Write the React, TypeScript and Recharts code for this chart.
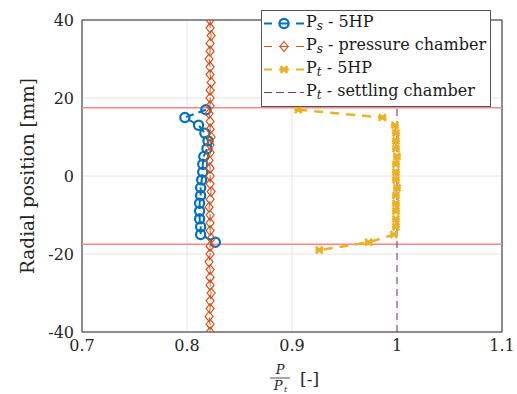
import React from "react";
import {
  ScatterChart,
  Scatter,
  XAxis,
  YAxis,
  CartesianGrid,
  ReferenceLine,
  ReferenceArea,
} from "recharts";

// radial stations [mm] and pressure ratios P/Pt
const radial5hp = [17, 15, 13, 11, 9, 7, 5, 3, 1, -1, -3, -5, -7, -9, -11, -13, -15, -17];
const ps5hp = [
  0.818, 0.798, 0.811, 0.817, 0.82, 0.819, 0.816, 0.815, 0.815, 0.814, 0.813, 0.813, 0.812,
  0.812, 0.812, 0.813, 0.813, 0.827,
];

const radialChamber = [
  40, 38, 36, 34, 32, 30, 28, 26, 24, 22, 20, 18, 16, 14, 12, 10, 8, 6, 4, 2, 0, -2, -4, -6, -8,
  -10, -12, -14, -16, -18, -20, -22, -24, -26, -28, -30, -32, -34, -36, -38, -40,
];
const psChamber = [
  0.822, 0.822, 0.823, 0.822, 0.822, 0.821, 0.822, 0.822, 0.823, 0.822, 0.822, 0.822, 0.821,
  0.822, 0.822, 0.823, 0.822, 0.822, 0.821, 0.822, 0.822, 0.822, 0.823, 0.822, 0.821, 0.822,
  0.822, 0.822, 0.823, 0.822, 0.822, 0.821, 0.822, 0.822, 0.822, 0.823, 0.822, 0.822, 0.821,
  0.822, 0.822,
];

const radialPt = [17, 15, 13, 11, 9, 7, 5, 3, 1, -1, -3, -5, -7, -9, -11, -13, -15, -17, -19];
const pt5hp = [
  0.906, 0.986, 0.998, 0.999, 0.999, 0.999, 1.0, 0.999, 0.999, 0.999, 1.0, 0.999, 0.999, 0.999,
  0.999, 0.999, 0.997, 0.973, 0.926,
];

const ptSettling = 1.0;
const jetEdges = [17.5, -17.5];

const xTicks = [0.7, 0.8, 0.9, 1, 1.1];
const yTicks = [-40, -20, 0, 20, 40];

const BLUE = "#0072BD";
const ORANGE = "#D95319";
const YELLOW = "#EDB120";
const PURPLE = "#7E2F8E";
const EDGE_RED = "#ff8585";
const FONT = "DejaVu Serif, Liberation Serif, serif";

const zip = (xs: number[], ys: number[]) => xs.map((x, i) => ({ x, y: ys[i] }));

const ps5hpData = zip(ps5hp, radial5hp);
const psChamberData = zip(psChamber, radialChamber);
const pt5hpData = zip(pt5hp, radialPt);

const Circle = (p: any) => (
  <circle cx={p.cx} cy={p.cy} r={4.6} fill="none" stroke={BLUE} strokeWidth={2.2} />
);

const Diamond = (p: any) => (
  <path
    d={`M${p.cx},${p.cy - 5}L${p.cx + 4},${p.cy}L${p.cx},${p.cy + 5}L${p.cx - 4},${p.cy}Z`}
    fill="none"
    stroke={ORANGE}
    strokeWidth={1.2}
  />
);

const Star = (p: any) => {
  const s = 3.4;
  return (
    <path
      d={`M${p.cx - s},${p.cy - s}L${p.cx + s},${p.cy + s}M${p.cx - s},${p.cy + s}L${p.cx + s},${p.cy - s}M${p.cx - s - 0.5},${p.cy}L${p.cx + s + 0.5},${p.cy}`}
      stroke={YELLOW}
      strokeWidth={2.5}
      fill="none"
    />
  );
};

const legendItems = [
  { sub: "s", text: " - 5HP", color: BLUE, width: 2, marker: "circle" },
  { sub: "s", text: " - pressure chamber", color: ORANGE, width: 1, marker: "diamond" },
  { sub: "t", text: " - 5HP", color: YELLOW, width: 2, marker: "star" },
  { sub: "t", text: " - settling chamber", color: PURPLE, width: 1, marker: "none" },
];

function LegendBox() {
  return (
    <div
      style={{
        position: "absolute",
        left: 261,
        top: 10,
        width: 228,
        height: 94,
        background: "#fff",
        border: "1px solid #555",
        fontFamily: FONT,
        fontSize: 16,
        lineHeight: "23px",
        paddingTop: 1,
        color: "#1a1a1a",
      }}
    >
      {legendItems.map((it, i) => (
        <div key={i} style={{ display: "flex", alignItems: "center", height: 23, whiteSpace: "nowrap" }}>
          <svg width={44} height={23} style={{ flex: "none" }}>
            <line
              x1={2}
              y1={11.5}
              x2={42}
              y2={11.5}
              stroke={it.color}
              strokeWidth={it.width}
              strokeDasharray={it.marker === "none" ? "8 4" : "8 7 10 7 8"}
            />
            {it.marker === "circle" && <Circle cx={22} cy={11.5} />}
            {it.marker === "diamond" && <Diamond cx={22} cy={11.5} />}
            {it.marker === "star" && <Star cx={22} cy={11.5} />}
          </svg>
          <span>
            P<sub style={{ fontStyle: "italic", fontSize: 12, verticalAlign: "-3px" }}>{it.sub}</sub>
            {it.text}
          </span>
        </div>
      ))}
    </div>
  );
}

const YLabel = (props: any) => {
  const vb = props.viewBox;
  const cx = 27;
  const cy = vb.y + vb.height / 2;
  return (
    <text
      x={cx}
      y={cy}
      transform={`rotate(-90, ${cx}, ${cy})`}
      textAnchor="middle"
      dominantBaseline="central"
      fontFamily={FONT}
      fontSize={18.5}
      fill="#262626"
    >
      Radial position [mm]
    </text>
  );
};

const XLabel = (props: any) => {
  const vb = props.viewBox;
  const cx = vb.x + vb.width / 2 - 12;
  return (
    <g fontFamily={FONT} fill="#262626">
      <text x={cx} y={374} textAnchor="middle" fontSize={13} fontStyle="italic">
        P
      </text>
      <line x1={cx - 10} y1={378} x2={cx + 10} y2={378} stroke="#262626" strokeWidth={0.8} />
      <text x={cx - 2} y={390} textAnchor="middle" fontSize={13} fontStyle="italic">
        P
      </text>
      <text x={cx + 4} y={392} fontSize={8} fontStyle="italic">
        t
      </text>
      <text x={cx + 20} y={385} fontSize={17}>
        [-]
      </text>
    </g>
  );
};

export default function App() {
  const tickStyle = { fontFamily: FONT, fontSize: 16, fill: "#262626" };
  return (
    <div style={{ position: "absolute", left: 0, top: 0, width: 517, height: 394, background: "#fff" }}>
      <ScatterChart width={517} height={394} margin={{ top: 20, right: 15, bottom: 0, left: 0 }}>
        <CartesianGrid stroke="#e6e6e6" strokeWidth={1} />
        <XAxis
          type="number"
          dataKey="x"
          domain={[0.7, 1.1]}
          ticks={xTicks}
          tickFormatter={(v: number) => String(v)}
          height={62}
          axisLine={false}
          tickLine={false}
          tick={tickStyle}
          allowDataOverflow
          label={<XLabel />}
        />
        <YAxis
          type="number"
          dataKey="y"
          domain={[-40, 40]}
          ticks={yTicks}
          width={82}
          axisLine={false}
          tickLine={false}
          tick={tickStyle}
          allowDataOverflow
          label={<YLabel />}
        />
        <ReferenceArea x1={0.7} x2={1.1} y1={-40} y2={40} fill="none" stroke="#262626" strokeWidth={1} />
        {jetEdges.map((y) => (
          <ReferenceLine key={y} y={y} stroke={EDGE_RED} strokeWidth={1.5} />
        ))}
        <Scatter
          data={ps5hpData}
          isAnimationActive={false}
          line={{ stroke: BLUE, strokeWidth: 2, strokeDasharray: "8 5" }}
          lineType="joint"
          shape={Circle}
        />
        <Scatter
          data={psChamberData}
          isAnimationActive={false}
          line={{ stroke: ORANGE, strokeWidth: 1, strokeDasharray: "8 5" }}
          lineType="joint"
          shape={Diamond}
        />
        <Scatter
          data={pt5hpData}
          isAnimationActive={false}
          line={{ stroke: YELLOW, strokeWidth: 2.5, strokeDasharray: "9 7" }}
          lineType="joint"
          shape={Star}
        />
        <ReferenceLine x={ptSettling} stroke={PURPLE} strokeWidth={1} strokeDasharray="7 5" />
      </ScatterChart>
      <LegendBox />
    </div>
  );
}
